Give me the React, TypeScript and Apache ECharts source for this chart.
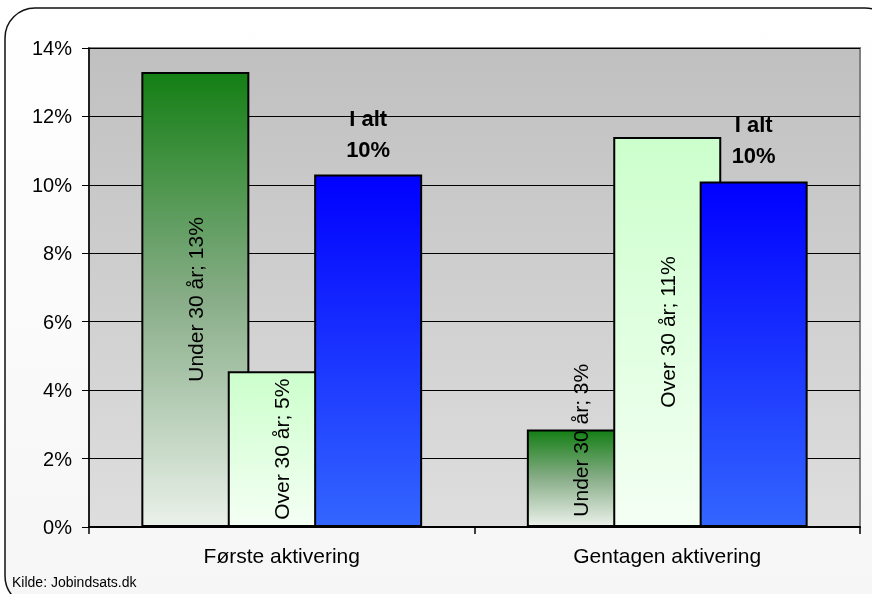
import React, { useEffect, useRef } from "react";
import * as echarts from "echarts";

const categories = ["Første aktivering", "Gentagen aktivering"];
const under30 = [13.3, 2.85];
const over30 = [4.55, 11.4];
const total = [10.3, 10.1];
const yTicks = [0, 2, 4, 6, 8, 10, 12, 14];
const seriesNames = ["Under 30 år", "Over 30 år", "I alt"];

const FONT = "'Liberation Sans', Arial, sans-serif";

export default function App() {
  const ref = useRef<HTMLDivElement>(null);
  useEffect(() => {
    if (!ref.current) return;
    const chart = echarts.init(ref.current, undefined, { renderer: "svg" });
    const grad = (stops: [number, string][]) =>
      new echarts.graphic.LinearGradient(
        0,
        0,
        0,
        1,
        stops.map(([offset, color]) => ({ offset, color }))
      );
    const rotLabel = (name: string) => ({
      show: true,
      position: "inside",
      rotate: 90,
      color: "#000",
      fontFamily: FONT,
      fontSize: 21,
      formatter: (p: any) => `${name}; ${Math.round(p.value)}%`,
    });
    const underData = under30.map((v, i) =>
      i === 1 ? { value: v, label: { offset: [38, 0] } } : v
    );
    chart.setOption({
      animation: false,
      graphic: [
        {
          type: "rect",
          z: -10,
          shape: { x: 5, y: 8, width: 890, height: 598, r: 30 },
          style: {
            fill: grad([
              [0, "#ffffff"],
              [1, "#f6f6f6"],
            ]),
            stroke: "#111",
            lineWidth: 1.5,
          },
        },
        {
          type: "text",
          left: 12,
          top: 575,
          style: {
            text: "Kilde: Jobindsats.dk",
            fontFamily: FONT,
            fontSize: 14,
            fill: "#000",
          },
        },
      ],
      grid: {
        left: 89,
        right: 12,
        top: 48,
        bottom: 67,
        show: true,
        backgroundColor: grad([
          [0, "#c0c0c0"],
          [1, "#dedede"],
        ]),
        borderColor: "#808080",
        borderWidth: 2,
      },
      xAxis: {
        type: "category",
        data: categories,
        axisLine: { lineStyle: { color: "#000", width: 2 } },
        axisTick: { show: true, length: 7, lineStyle: { color: "#000", width: 1.5 } },
        axisLabel: { color: "#000", fontFamily: FONT, fontSize: 21, margin: 18 },
      },
      yAxis: {
        type: "value",
        min: yTicks[0],
        max: yTicks[yTicks.length - 1],
        interval: 2,
        axisLine: { show: true, lineStyle: { color: "#000", width: 1.5 } },
        axisTick: { show: true, length: 7, lineStyle: { color: "#000", width: 1 } },
        axisLabel: {
          color: "#000",
          fontFamily: FONT,
          fontSize: 20,
          margin: 17,
          formatter: "{value}%",
        },
        splitLine: { show: true, lineStyle: { color: "#000", width: 1 } },
      },
      series: [
        {
          name: seriesNames[0],
          type: "bar",
          data: underData,
          barWidth: 108,
          barGap: "-20%",
          itemStyle: {
            color: grad([
              [0, "#147f14"],
              [0.5, "#88ad88"],
              [1, "#eaf1ea"],
            ]),
            borderColor: "#000",
            borderWidth: 2,
          },
          label: rotLabel(seriesNames[0]),
        },
        {
          name: seriesNames[1],
          type: "bar",
          data: over30,
          barWidth: 108,
          barGap: "-20%",
          itemStyle: {
            color: grad([
              [0, "#ccffcc"],
              [1, "#f4fff4"],
            ]),
            borderColor: "#000",
            borderWidth: 2,
          },
          label: rotLabel(seriesNames[1]),
        },
        {
          name: seriesNames[2],
          type: "bar",
          data: total,
          barWidth: 108,
          barGap: "-20%",
          itemStyle: {
            color: grad([
              [0, "#0000ff"],
              [1, "#3366ff"],
            ]),
            borderColor: "#000",
            borderWidth: 2,
          },
          label: {
            show: true,
            position: "top",
            distance: 10,
            color: "#000",
            fontFamily: FONT,
            fontSize: 22,
            fontWeight: "bold",
            lineHeight: 31,
            formatter: (p: any) => `${seriesNames[2]}\n${Math.round(p.value)}%`,
          },
        },
      ],
    });
    return () => chart.dispose();
  }, []);
  return (
    <div
      ref={ref}
      style={{ position: "fixed", left: 0, top: 0, width: 872, height: 594 }}
    />
  );
}
